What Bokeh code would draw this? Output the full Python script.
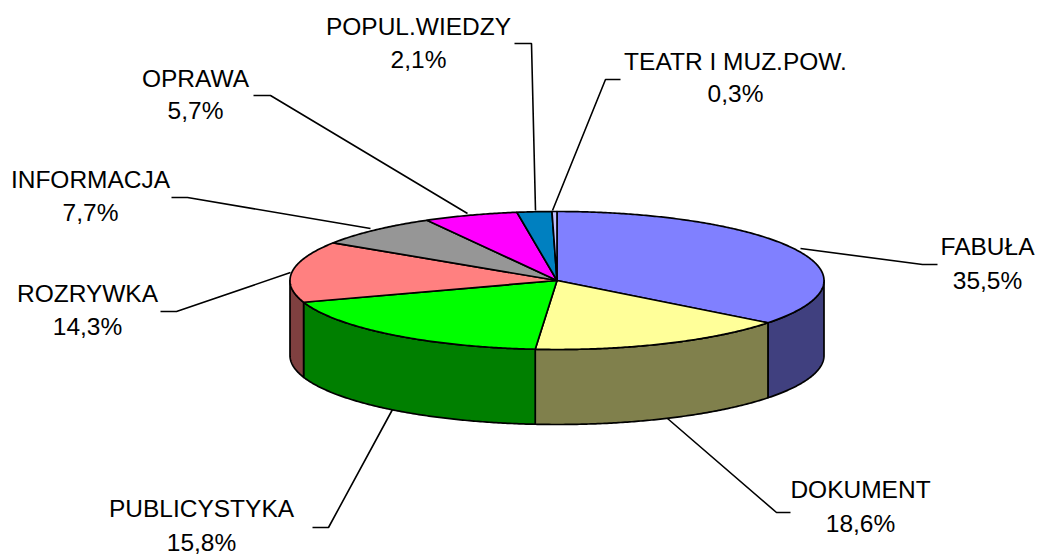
import numpy as np
from bokeh.plotting import figure
from bokeh.models import Range1d
from bokeh.core.properties import value
from bokeh.embed import file_html
from bokeh.resources import INLINE

# Data
categories = ["FABUŁA", "DOKUMENT", "PUBLICYSTYKA", "ROZRYWKA", "INFORMACJA", "OPRAWA", "POPUL.WIEDZY", "TEATR I MUZ.POW."]
label_values = [35.5, 18.6, 15.8, 14.3, 7.7, 5.7, 2.1, 0.3]
# The slices as drawn: the yellow one spans 15.8 and the green one 18.6
slice_values = [35.5, 15.8, 18.6, 14.3, 7.7, 5.7, 2.1, 0.3]

# Styling
top_colors = ["#8080FF", "#FFFF99", "#00FF00", "#FF8080", "#969696", "#FF00FF", "#0080C0", "#C0C0FF"]
side_colors = ["#40407F", "#80804C", "#007F00", "#7F4040", "#4B4B4B", "#7F007F", "#004060", "#60607F"]

# Layout in page pixels
CX, CY, RX, RY, DEPTH = 556.5, 280.0, 267.0, 69.0, 75.0
label_x = [987, 860, 201, 87, 90, 195, 418, 735]
label_y1 = [246, 489, 508, 293, 179, 78, 26, 61]
label_y2 = [280, 523, 542, 326, 212, 110, 59, 93]
leaders = [
    ([800, 922, 937], [248, 264, 264]),
    ([667, 776, 790], [418, 512, 512]),
    ([392, 328, 312], [409, 527, 527]),
    ([290, 176, 160], [272, 311, 311]),
    ([370, 187, 171], [228, 197, 197]),
    ([467, 270, 253], [213, 95, 95]),
    ([535, 531, 514], [210, 43, 43]),
    ([552, 605, 620], [210, 79, 79]),
]

p = figure(width=1039, height=556, output_backend="svg", toolbar_location=None,
           x_range=Range1d(0, 1039), y_range=Range1d(556, 0), min_border=0)
p.axis.visible = False
p.grid.visible = False
p.outline_line_color = None
p.background_fill_color = "white"
p.border_fill_color = "white"


def arc(a0, a1, dy=0.0):
    t = np.radians(np.linspace(a0, a1, max(2, int(abs(a1 - a0) * 2) + 2)))
    return CX + RX * np.sin(t), CY + dy - RY * np.cos(t)


LW = 1.7
edges = np.concatenate([[0.0], np.cumsum(slice_values)]) / sum(slice_values) * 360.0

# Visible side walls (front half only)
for i in range(len(slice_values)):
    a0, a1 = max(edges[i], 90.0), min(edges[i + 1], 270.0)
    if a1 <= a0:
        continue
    x0, y0 = arc(a0, a1)
    x1, y1 = arc(a0, a1, DEPTH)
    p.patch(np.concatenate([x0, x1[::-1]]), np.concatenate([y0, y1[::-1]]),
            fill_color=side_colors[i], line_color="black", line_width=LW, line_join="round")

# Top faces
for i in range(len(slice_values)):
    x0, y0 = arc(edges[i], edges[i + 1])
    p.patch(np.concatenate([[CX], x0]), np.concatenate([[CY], y0]),
            fill_color=top_colors[i], line_color="black", line_width=LW, line_join="round")

# Leader lines
for lx, ly in leaders:
    p.line(lx, ly, line_color="black", line_width=1.6)

# Labels
font = value("Liberation Sans")
size = value("24.5px")
for i, name in enumerate(categories):
    pct = f"{label_values[i]:.1f}%".replace(".", ",")
    p.text([label_x[i]], [label_y1[i]], text=[name], text_font=font, text_font_size=size,
           text_align="center", text_baseline="middle", text_color="black")
    p.text([label_x[i]], [label_y2[i]], text=[pct], text_font=font, text_font_size=size,
           text_align="center", text_baseline="middle", text_color="black")

open("out.html", "w").write(file_html(p, INLINE))
